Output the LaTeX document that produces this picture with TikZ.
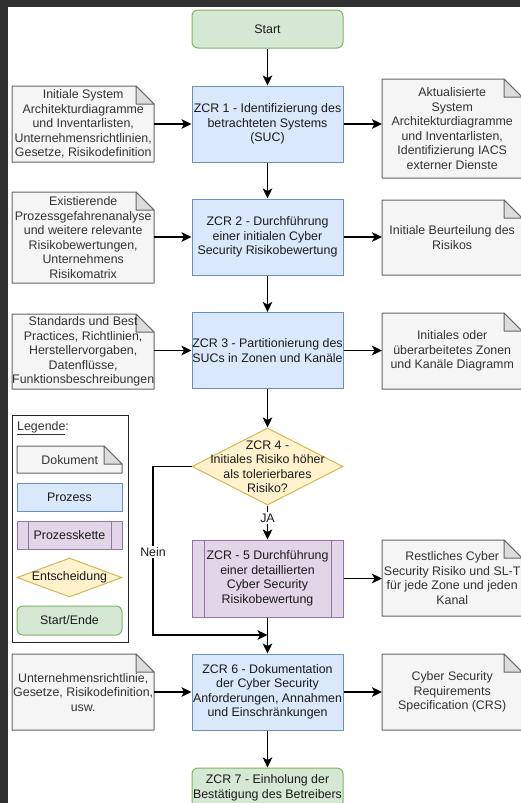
\documentclass[tikz,border=0pt]{standalone}
\usepackage{fontspec}
\setmainfont{Liberation Sans}
\usetikzlibrary{arrows.meta,shapes.geometric}

\definecolor{docfill}{HTML}{F5F5F5}
\definecolor{docline}{HTML}{666666}
\definecolor{doccolor}{HTML}{333333}
\definecolor{foldfill}{HTML}{DCDCDC}
\definecolor{procfill}{HTML}{DAE8FC}
\definecolor{procline}{HTML}{6C8EBF}
\definecolor{chainfill}{HTML}{E1D5E7}
\definecolor{chainline}{HTML}{9673A6}
\definecolor{decfill}{HTML}{FFF2CC}
\definecolor{decline}{HTML}{D6B656}
\definecolor{termfill}{HTML}{D5E8D4}
\definecolor{termline}{HTML}{82B366}
\definecolor{framecolor}{HTML}{303030}
\definecolor{maintext}{HTML}{1A1A1A}

% size of the folded corner of a document shape
\newcommand\foldsz{18}
% document shape: style, name, x1, y1, x2, y2, text
\newcommand\docnode[7]{%
  \filldraw[notebody] (#3,#4) -- ({#5-\foldsz},#4) -- (#5,{#4+\foldsz}) -- (#5,#6) -- (#3,#6) -- cycle;
  \filldraw[notefold] ({#5-\foldsz},#4) -- ({#5-\foldsz},{#4+\foldsz}) -- (#5,{#4+\foldsz}) -- cycle;
  \pgfmathsetmacro\docw{#5-#3}\pgfmathsetmacro\doch{#6-#4}%
  \node[doctext,#1,minimum width=\docw pt,minimum height=\doch pt,anchor=north west] (#2) at (#3,#4) {#7};}

\begin{document}
\begin{tikzpicture}[x=1pt,y=-1pt,
  txt/.style={font=\fontsize{12.4}{14.5}\selectfont, align=center, inner sep=0pt, text=maintext},
  process/.style={txt, draw=procline, fill=procfill, line width=1pt, minimum width=151pt, minimum height=76pt},
  chainbox/.style={txt, draw=chainline, fill=chainfill, line width=1pt, minimum width=151pt, minimum height=77pt,
    path picture={\draw[chainline, line width=1pt]
      ([xshift=#1]path picture bounding box.north west) -- ([xshift=#1]path picture bounding box.south west)
      ([xshift=-#1]path picture bounding box.north east) -- ([xshift=-#1]path picture bounding box.south east);}},
  chainbox/.default=12pt,
  terminal/.style={txt, draw=termline, fill=termfill, line width=1pt, rounded corners=6pt, minimum width=151pt, minimum height=38pt},
  decision/.style={diamond, draw=decline, fill=decfill, line width=1pt, inner sep=0pt, minimum width=151pt, minimum height=77pt},
  doctext/.style={txt, text=doccolor},
  notebody/.style={draw=docline, fill=docfill, line width=1pt, line join=round},
  notefold/.style={draw=docline, fill=foldfill, line width=1pt, line join=round},
  flow/.style={draw=black, line width=1.9pt, -{Stealth[length=10pt,width=9.5pt,inset=2.5pt]}},
  tag/.style={txt, fill=white, inner sep=1.5pt}
]
\useasboundingbox (0,0) rectangle (520,803);
\fill[framecolor] (0,0) rectangle (520,803);
\fill[white] (7.5,6.5) rectangle (520,803);

% main column
\node[terminal] (start) at (267.5,29) {Start};
\node[process] (z1) at (267.5,124) {ZCR 1 - Identifizierung des\\betrachteten Systems\\(SUC)};
\node[process] (z2) at (267.5,237) {ZCR 2 - Durchführung\\einer initialen Cyber\\Security Risikobewertung};
\node[process] (z3) at (267.5,350.5) {ZCR 3 - Partitionierung des\\SUCs in Zonen und Kanäle};
\node[decision] (z4) at (267.5,466.5) {};
\node[txt] (z4t) at (z4) {ZCR 4 -\\Initiales Risiko höher\\als tolerierbares\\Risiko?};
\node[chainbox] (z5) at (267.5,578.5) {ZCR - 5 Durchführung\\einer detaillierten\\Cyber Security\\Risikobewertung};
\node[process] (z6) at (267.5,692) {ZCR 6 - Dokumentation\\der Cyber Security\\Anforderungen, Annahmen\\und Einschränkungen};
\node[terminal, minimum height=40pt] (z7) at (267.5,788) {ZCR 7 - Einholung der\\Bestätigung des Betreibers};

% input and output documents
\docnode{}{d1l}{12}{86}{154}{162}{Initiale System\\Architekturdiagramme\\und Inventarlisten,\\Unternehmensrichtlinien,\\Gesetze, Risikodefinition}
\docnode{}{d1r}{382}{79}{522}{178}{Aktualisierte\\System\\Architekturdiagramme\\und Inventarlisten,\\Identifizierung IACS\\externer Dienste}
\docnode{}{d2l}{12}{192}{154}{283}{Existierende\\Prozessgefahrenanalyse\\und weitere relevante\\Risikobewertungen,\\Unternehmens\\Risikomatrix}
\docnode{}{d2r}{382}{200}{522}{275}{Initiale Beurteilung des\\Risikos}
\docnode{}{d3l}{12}{314}{154}{389}{Standards und Best\\Practices, Richtlinien,\\Herstellervorgaben,\\Datenflüsse,\\Funktionsbeschreibungen}
\docnode{}{d3r}{382}{313}{522}{389}{Initiales oder\\überarbeitetes Zonen\\und Kanäle Diagramm}
\docnode{}{d5r}{382}{540}{522}{616}{Restliches Cyber\\Security Risiko und SL-T\\für jede Zone und jeden\\Kanal}
\docnode{}{d6l}{12}{654}{154}{730}{Unternehmensrichtlinie,\\Gesetze, Risikodefinition,\\usw.}
\docnode{}{d6r}{382}{654}{522}{730}{Cyber Security\\Requirements\\Specification (CRS)}

% legend
\node[draw=black!85, fill=white, line width=1pt, minimum width=116pt, minimum height=227pt, anchor=north west] (legend) at (12,415) {};
\node[doctext, anchor=west] (legtitle) at (17,428) {\underline{Legende}:};
\docnode{}{ldoc}{17}{446}{122}{473}{Dokument}
\node[process, minimum width=105pt, minimum height=28pt] (lproc) at (69.5,497) {Prozess};
\node[chainbox=11pt, minimum width=105pt, minimum height=28pt] (lchain) at (69.5,535) {Prozesskette};
\node[decision, minimum width=105pt, minimum height=39pt] (ldec) at (69.5,577.5) {};
\node[txt] (ldect) at (ldec) {Entscheidung};
\node[terminal, minimum width=105pt, minimum height=29pt] (lterm) at (69.5,620.5) {Start/Ende};

% main flow
\draw[flow] (start) -- (z1);
\draw[flow] (z1) -- (z2);
\draw[flow] (z2) -- (z3);
\draw[flow] (z3) -- (z4);
\draw[flow] (z4.south) -- (z5.north);
\draw[flow] (z5) -- (z6);
\draw[flow] (z6) -- (z7);
\node[tag] (ja) at (267.5,518) {JA};

% "no" branch around the detailed assessment
\coordinate (bend) at (153,635);
\draw[flow] (z4.west) -| (bend) -- (z5.south |- bend);
\node[tag] (nein) at (153,552) {Nein};

% documents into and out of each step
\draw[flow] (d1l.east |- z1.west) -- (z1.west);
\draw[flow] (d2l.east |- z2.west) -- (z2.west);
\draw[flow] (d3l.east |- z3.west) -- (z3.west);
\draw[flow] (d6l.east |- z6.west) -- (z6.west);
\draw[flow] (z1.east) -- (z1.east -| d1r.west);
\draw[flow] (z2.east) -- (z2.east -| d2r.west);
\draw[flow] (z3.east) -- (z3.east -| d3r.west);
\draw[flow] (z5.east) -- (z5.east -| d5r.west);
\draw[flow] (z6.east) -- (z6.east -| d6r.west);
\end{tikzpicture}
\end{document}
